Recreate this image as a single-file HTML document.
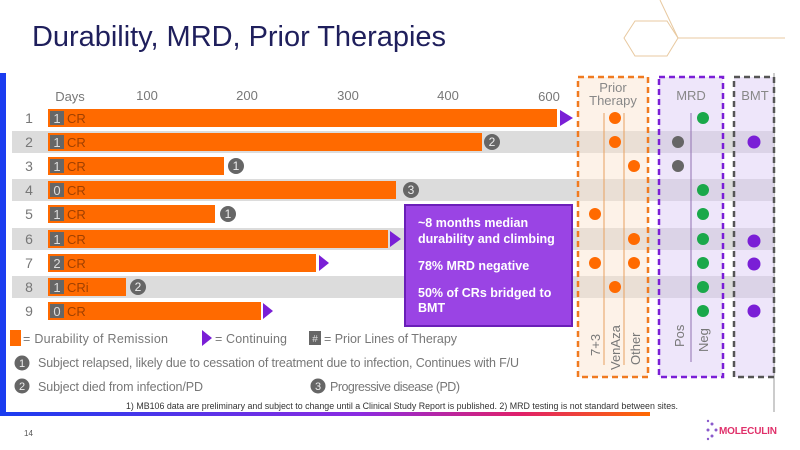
<!DOCTYPE html>
<html><head><meta charset="utf-8"><style>
html,body{margin:0;padding:0;background:#fff;}
svg{display:block;font-family:"Liberation Sans",sans-serif;}
</style></head><body>
<svg width="800" height="450" viewBox="0 0 800 450" xmlns="http://www.w3.org/2000/svg">
<defs>
<linearGradient id="bot" x1="0" x2="1"><stop offset="0" stop-color="#1a3cf0"/><stop offset="0.55" stop-color="#8a2be2"/><stop offset="0.8" stop-color="#e0206a"/><stop offset="1" stop-color="#ff6a00"/></linearGradient>
</defs>
<text x="32" y="46" font-size="29" fill="#1f1f5c" textLength="414">Durability, MRD, Prior Therapies</text>
<g stroke="#e8c9a0" stroke-width="1" fill="none">
<polygon points="635,21 667,21 678,38 667,56 635,56 624,38"/>
<line x1="678" y1="38" x2="785" y2="38"/><line x1="660" y1="0" x2="678" y2="38"/>
</g>
<rect x="5" y="73" width="768" height="340" fill="#fff"/>
<rect x="0" y="73" width="6" height="342" fill="#1a3cf0"/>
<rect x="0" y="412" width="650" height="4" fill="url(#bot)"/>
<line x1="774" y1="73" x2="774" y2="412" stroke="#ccc" stroke-width="2"/>
<g fill="#dcdcdc">
<rect x="12" y="131" width="762" height="22"/>
<rect x="12" y="179" width="762" height="22"/>
<rect x="12" y="228" width="762" height="22"/>
<rect x="12" y="276" width="762" height="22"/>
</g>
<rect x="578" y="77" width="70" height="300" fill="#fbe3cc" fill-opacity="0.45" stroke="#f07a20" stroke-width="2.5" stroke-dasharray="6,4"/>
<rect x="659" y="77" width="64" height="300" fill="#d9c8f5" fill-opacity="0.45" stroke="#7a1fd6" stroke-width="2.5" stroke-dasharray="6,4"/>
<rect x="734" y="77" width="40" height="300" fill="#d9c8f5" fill-opacity="0.45" stroke="#555" stroke-width="2.5" stroke-dasharray="6,4"/>
<line x1="604" y1="113" x2="604" y2="365" stroke="#e8a060" stroke-width="1"/>
<line x1="624" y1="113" x2="624" y2="365" stroke="#e8a060" stroke-width="1"/>
<line x1="691" y1="113" x2="691" y2="362" stroke="#9070b0" stroke-width="1"/>
<g fill="#888" font-size="13" text-anchor="middle">
<text x="613" y="92">Prior</text><text x="613" y="105">Therapy</text>
<text x="691" y="100">MRD</text><text x="755" y="100">BMT</text>
</g>
<g fill="#777" font-size="13">
<text transform="translate(600,356) rotate(-90)">7+3</text>
<text transform="translate(620,370) rotate(-90)">VenAza</text>
<text transform="translate(640,365) rotate(-90)">Other</text>
<text transform="translate(684,347) rotate(-90)">Pos</text>
<text transform="translate(708,352) rotate(-90)">Neg</text>
</g>
<g fill="#777" font-size="13" text-anchor="middle">
<text x="70" y="101">Days</text><text x="147" y="100">100</text><text x="247" y="100">200</text>
<text x="348" y="100">300</text><text x="448" y="100">400</text><text x="549" y="101">600</text>
</g>
<g fill="#777" font-size="14" text-anchor="middle">
<text x="29" y="123">1</text><text x="29" y="147">2</text><text x="29" y="171">3</text>
<text x="29" y="195">4</text><text x="29" y="219">5</text><text x="29" y="244">6</text>
<text x="29" y="268">7</text><text x="29" y="292">8</text><text x="29" y="316">9</text>
</g>
<g fill="#ff6a00">
<rect x="48" y="109" width="509" height="18"/>
<rect x="48" y="133" width="434" height="18"/>
<rect x="48" y="157" width="176" height="18"/>
<rect x="48" y="181" width="348" height="18"/>
<rect x="48" y="205" width="167" height="18"/>
<rect x="48" y="230" width="340" height="18"/>
<rect x="48" y="254" width="268" height="18"/>
<rect x="48" y="278" width="78" height="18"/>
<rect x="48" y="302" width="213" height="18"/>
</g>
<g fill="#666">
<rect x="50" y="111" width="14" height="14"/><rect x="50" y="135" width="14" height="14"/>
<rect x="50" y="159" width="14" height="14"/><rect x="50" y="183" width="14" height="14"/>
<rect x="50" y="207" width="14" height="14"/><rect x="50" y="232" width="14" height="14"/>
<rect x="50" y="256" width="14" height="14"/><rect x="50" y="280" width="14" height="14"/>
<rect x="50" y="304" width="14" height="14"/>
</g>
<g font-size="13">
<g fill="#ddd" text-anchor="middle">
<text x="57" y="123">1</text><text x="57" y="147">1</text><text x="57" y="171">1</text><text x="57" y="195">0</text>
<text x="57" y="219">1</text><text x="57" y="244">1</text><text x="57" y="268">2</text><text x="57" y="292">1</text><text x="57" y="316">0</text>
</g>
<g fill="#a04000">
<text x="67" y="123">CR</text><text x="67" y="147">CR</text><text x="67" y="171">CR</text><text x="67" y="195">CR</text>
<text x="67" y="219">CR</text><text x="67" y="244">CR</text><text x="67" y="268">CR</text><text x="67" y="292">CRi</text><text x="67" y="316">CR</text>
</g>
</g>
<g fill="#7a1fd6">
<polygon points="560,110 573,118 560,126"/>
<polygon points="390,231 401,239 390,247"/>
<polygon points="319,255 329,263 319,271"/>
<polygon points="263,303 273,311 263,319"/>
</g>
<g fill="#666"><circle cx="492" cy="142" r="8"/><circle cx="236" cy="166" r="8"/><circle cx="411" cy="190" r="8"/><circle cx="228" cy="214" r="8"/><circle cx="138" cy="287" r="8"/></g>
<g fill="#eee" font-size="12" text-anchor="middle">
<text x="492" y="146">2</text><text x="236" y="170">1</text><text x="411" y="194">3</text><text x="228" y="218">1</text><text x="138" y="291">2</text>
</g>
<g fill="#ff6a00">
<circle cx="615" cy="118" r="6"/><circle cx="615" cy="142" r="6"/><circle cx="634" cy="166" r="6"/>
<circle cx="595" cy="214" r="6"/><circle cx="634" cy="239" r="6"/><circle cx="595" cy="263" r="6"/><circle cx="634" cy="263" r="6"/><circle cx="615" cy="287" r="6"/>
</g>
<g fill="#666"><circle cx="678" cy="142" r="6"/><circle cx="678" cy="166" r="6"/></g>
<g fill="#1aa84a">
<circle cx="703" cy="118" r="6"/><circle cx="703" cy="190" r="6"/><circle cx="703" cy="214" r="6"/><circle cx="703" cy="239" r="6"/>
<circle cx="703" cy="263" r="6"/><circle cx="703" cy="287" r="6"/><circle cx="703" cy="311" r="6"/>
</g>
<g fill="#7a1fd6"><circle cx="754" cy="142" r="6.5"/><circle cx="754" cy="241" r="6.5"/><circle cx="754" cy="264" r="6.5"/><circle cx="754" cy="311" r="6.5"/></g>
<rect x="405" y="205" width="167" height="121" fill="#9a44e4" stroke="#6a1fb8" stroke-width="2"/>
<g fill="#fff" font-size="12.5" font-weight="bold">
<text x="418" y="227">~8 months median</text><text x="418" y="243">durability and climbing</text>
<text x="418" y="270">78% MRD negative</text>
<text x="418" y="297">50% of CRs bridged to</text><text x="418" y="312">BMT</text>
</g>
<rect x="10" y="330" width="11" height="16" fill="#ff6a00"/>
<text x="23" y="343" font-size="12.5" fill="#777" textLength="145">= Durability of Remission</text>
<polygon points="202,330 212,338 202,346" fill="#7a1fd6"/>
<text x="215" y="343" font-size="12.5" fill="#777" textLength="72">= Continuing</text>
<rect x="309" y="331" width="12" height="14" fill="#666"/>
<text x="315" y="342" font-size="10" fill="#ddd" text-anchor="middle">#</text>
<text x="324" y="343" font-size="12.5" fill="#777" textLength="133">= Prior Lines of Therapy</text>
<circle cx="22" cy="363" r="7.5" fill="#666"/><text x="22" y="367" font-size="11" fill="#eee" text-anchor="middle">1</text>
<text x="38" y="367" font-size="12.5" fill="#777" textLength="481">Subject relapsed, likely due to cessation of treatment due to infection, Continues with F/U</text>
<circle cx="22" cy="386" r="7.5" fill="#666"/><text x="22" y="390" font-size="11" fill="#eee" text-anchor="middle">2</text>
<text x="38" y="391" font-size="12.5" fill="#777" textLength="165">Subject died from infection/PD</text>
<circle cx="318" cy="386" r="7.5" fill="#666"/><text x="318" y="390" font-size="11" fill="#eee" text-anchor="middle">3</text>
<text x="330" y="391" font-size="12.5" fill="#777" textLength="130">Progressive disease (PD)</text>
<text x="126" y="409" font-size="9" fill="#333" textLength="552" lengthAdjust="spacingAndGlyphs">1) MB106 data are preliminary and subject to change until a Clinical Study Report is published. 2) MRD testing is not standard between sites.</text>
<text x="24" y="436" font-size="8" fill="#555">14</text>
<g fill="#8a5acc"><circle cx="712" cy="424" r="1.5"/><circle cx="708" cy="430" r="1.5"/><circle cx="712" cy="436" r="1.5"/><circle cx="716" cy="430" r="1.5"/><circle cx="708" cy="421" r="1.2"/><circle cx="708" cy="439" r="1.2"/></g>
<text x="719" y="434" font-size="10" font-weight="bold" fill="#e0306a" textLength="58">MOLECULIN</text>
</svg>
</body></html>
